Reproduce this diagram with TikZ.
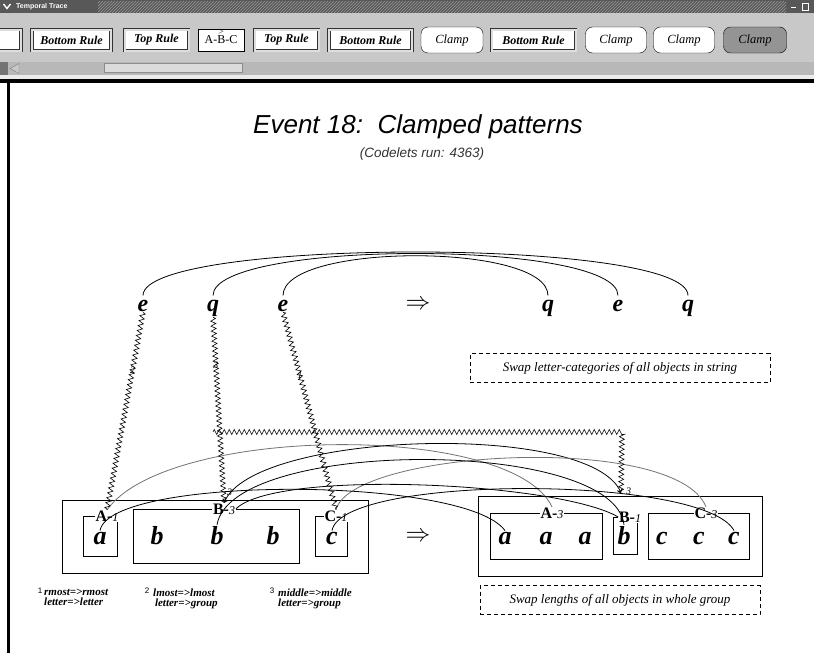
\documentclass[tikz,border=0pt]{standalone}
\usepackage{fontspec}
\setmainfont{Liberation Serif}
\newfontfamily\helvfont{Liberation Sans}
\usetikzlibrary{decorations.pathmorphing,arrows.meta,patterns}

\definecolor{title-gray}{RGB}{88,88,88}
\definecolor{panel-gray}{RGB}{200,200,200}
\definecolor{bar-gray}{RGB}{184,184,184}

\tikzset{
    rule-button/.style = {draw=black!80, line width=0.75pt, double=panel-gray!60, double distance=2pt, fill=white, minimum height=21pt, inner sep=0pt, font=\fontsize{12}{12}\selectfont\bfseries\itshape},
    clamp-button/.style = {draw=black, fill=white, rounded corners=7pt, minimum height=26pt, inner sep=0pt, font=\fontsize{12.5}{12.5}\selectfont\itshape},
    letter/.style = {anchor=base, inner sep=1pt, font=\fontsize{26}{26}\selectfont\bfseries\itshape},
    top-letter/.style = {letter, font=\fontsize{24}{24}\selectfont\bfseries\itshape},
    group-label/.style = {fill=white, inner sep=0.6pt, font=\fontsize{16}{16}\selectfont\bfseries},
    bridge/.style = {line width=0.8pt, shorten <=3pt, shorten >=3pt},
    link/.style = {line width=0.8pt},
    faint-link/.style = {link, draw=black!55},
    mapping/.style = {line width=0.6pt, decorate, decoration={zigzag, amplitude=2.5pt, segment length=5pt}},
    map-num/.style = {inner sep=0pt, font=\fontsize{10}{10}\selectfont\itshape},
    rule-note/.style = {draw, dash pattern=on 4pt off 3pt, line width=0.7pt, minimum height=29pt, font=\fontsize{13}{13}\selectfont\itshape},
    note-num/.style = {inner sep=0pt, font=\helvfont\fontsize{8}{8}\selectfont},
    note-text/.style = {anchor=north west, align=left, inner sep=0pt, font=\fontsize{11}{9.5}\selectfont\bfseries\itshape},
}

\begin{document}
\begin{tikzpicture}[x=1pt, y=-1pt]
\clip (0,0) rectangle (814,653);
\fill[white] (0,0) rectangle (814,653);

% window title bar
\fill[title-gray] (0,0) rectangle (814,13);
\fill[pattern=north east lines, pattern color=gray!80] (98,1) rectangle (786,12);
\draw[white, line width=1.4pt] (3.5,4) -- (7,8.5) -- (10.5,4);
\node[anchor=west, inner sep=0pt, text=white, font=\helvfont\fontsize{7}{7}\selectfont\bfseries] (wintitle) at (16,6.5) {Temporal Trace};
\draw[white, line width=1pt] (791,7.5) -- (796,7.5);
\draw[white, line width=0.8pt] (802,3) rectangle (808,10.5);

% trace of events
\fill[panel-gray] (0,13) rectangle (814,62);
\node[rule-button, minimum width=32pt] (btn0) at (5,40) {};
\node[rule-button, minimum width=79pt] (btn1) at (71.5,40) {Bottom Rule};
\node[rule-button, minimum width=64pt] (btn2) at (156.5,40) {Top Rule};
\node[draw=black, fill=white, minimum width=46pt, minimum height=22pt, font=\fontsize{12}{12}\selectfont] (btn3) at (221,40) {A-B-C};
\node[inner sep=0pt, font=\fontsize{7}{7}\selectfont] (btn3arrow) at (221,32) {$>$};
\node[rule-button, minimum width=64pt] (btn4) at (286.5,40) {Top Rule};
\node[rule-button, minimum width=83pt] (btn5) at (370.5,40) {Bottom Rule};
\node[clamp-button, minimum width=62pt] (btn6) at (452,40) {Clamp};
\node[rule-button, minimum width=84pt] (btn7) at (533.5,40) {Bottom Rule};
\node[clamp-button, minimum width=61pt] (btn8) at (616,40) {Clamp};
\node[clamp-button, minimum width=61pt] (btn9) at (684,40) {Clamp};
\node[clamp-button, minimum width=63pt, fill=black!42] (btn10) at (755,40) {Clamp};

% scroll bar
\fill[bar-gray] (0,62) rectangle (814,75);
\fill[black!55] (0,62) rectangle (8,75);
\draw[black!50, fill=panel-gray] (19,63.5) -- (10,68.5) -- (19,73.5) -- cycle;
\draw[black!45, fill=white!86!black] (104,63.5) rectangle (242,72.5);
\fill[white!92!black] (0,75) rectangle (814,79);
\fill[black] (0,79) rectangle (814,83);
\fill[black] (7,79) rectangle (10,653);

% heading
\node[font=\helvfont\fontsize{26}{26}\selectfont\itshape] (heading) at (418,127) {Event 18:\ \ Clamped patterns};
\node[font=\helvfont\fontsize{13.5}{13.5}\selectfont\itshape, text=black!80] (codelets) at (422,154) {(Codelets run: 4363)};

% target string and its answer
\node[top-letter] (s1) at (143,311) {e};
\node[top-letter] (s2) at (213,311) {q};
\node[top-letter] (s3) at (283,311) {e};
\node[font=\fontsize{30}{30}\selectfont] (topto) at (418,305) {$\Rightarrow$};
\node[top-letter] (t1) at (548,311) {q};
\node[top-letter] (t2) at (618,311) {e};
\node[top-letter] (t3) at (688,311) {q};

\draw[bridge] (s1.north) .. controls +(0,-61) and +(0,-61) .. (t3.north);
\draw[bridge] (s2.north) .. controls +(0,-59) and +(0,-59) .. (t2.north);
\draw[bridge] (s3.north) .. controls +(0,-56) and +(0,-56) .. (t1.north);

\node[rule-note, minimum width=300pt] (topnote) at (620,368) {Swap letter-categories of all objects in string};

% initial string a bbb c
\draw[line width=0.8pt] (62,500) rectangle (368,573);
\draw[line width=0.8pt] (83,516) rectangle (117,556);
\draw[line width=0.8pt] (133,509) rectangle (299,563);
\draw[line width=0.8pt] (315,516) rectangle (347,556);
\node[letter] (la) at (100,544) {a};
\node[letter] (lb1) at (157,544) {b};
\node[letter] (lb2) at (217,544) {b};
\node[letter] (lb3) at (273,544) {b};
\node[letter] (lc) at (332,544) {c};
\node[group-label] (gA1) at (107,516) {A-{\fontsize{12}{12}\selectfont\mdseries\itshape 1}};
\node[group-label] (gB3) at (224,509) {B-{\fontsize{12}{12}\selectfont\mdseries\itshape 3}};
\node[group-label] (gC1) at (336,516) {C-{\fontsize{12}{12}\selectfont\mdseries\itshape 1}};

\node[font=\fontsize{30}{30}\selectfont] (bottomto) at (418,537) {$\Rightarrow$};

% modified string aaa b ccc
\draw[line width=0.8pt] (478,496) rectangle (762,576);
\draw[line width=0.8pt] (490,513) rectangle (602,559);
\draw[line width=0.8pt] (613,517) rectangle (637,554);
\draw[line width=0.8pt] (648,513) rectangle (749,559);
\node[letter] (ra1) at (505,544) {a};
\node[letter] (ra2) at (546,544) {a};
\node[letter] (ra3) at (585,544) {a};
\node[letter] (rb) at (624,544) {b};
\node[letter] (rc1) at (662,544) {c};
\node[letter] (rc2) at (699,544) {c};
\node[letter] (rc3) at (734,544) {c};
\node[group-label] (gA3) at (552,513) {A-{\fontsize{12}{12}\selectfont\mdseries\itshape 3}};
\node[group-label] (gB1) at (630,517) {B-{\fontsize{12}{12}\selectfont\mdseries\itshape 1}};
\node[group-label] (gC3) at (706,513) {C-{\fontsize{12}{12}\selectfont\mdseries\itshape 3}};

% correspondences
\coordinate (clampL) at (213,432);
\coordinate (clampR) at (622,432);
\coordinate (clampEnd) at (621,493);
\node[map-num, anchor=south west] (lnum) at (227,496) {3};
\node[map-num, anchor=south west] (rnum) at (626,495) {3};

\draw[faint-link] (gA1.north) .. controls +(60,-85) and +(-40,-85) .. (gA3.north);
\draw[link, {Straight Barb[length=3pt,width=5pt]}-{Straight Barb[length=3pt,width=5pt]}] (gB3.north) .. controls +(30,-72) and +(-30,-72) .. (clampEnd);
\draw[faint-link] (gC1.north) .. controls +(15,-60) and +(-30,-75) .. (gC3.north);
\draw[link] (la.north) .. controls +(10,-55) and +(-40,-55) .. (ra1.north);
\draw[link] (lb2.north) .. controls +(15,-87) and +(-10,-87) .. (rb.north);
\draw[link] (lc.north) .. controls +(10,-56) and +(-30,-56) .. (rc3.north);
\draw[link] (gB3.east) .. controls +(40,-40) and +(-60,-35) .. (gB1.west);

\draw[mapping] (s1.south) -- node[map-num, pos=0.29] (m2) {2} (gA1.north);
\draw[mapping] (s2.south) -- node[map-num, pos=0.26] (m3) {3} (gB3.north);
\draw[mapping] (s3.south) -- node[map-num, pos=0.32] (m1) {1} (gC1.north);
\draw[mapping] (clampL) -- (clampR) -- (clampEnd);

\node[rule-note, minimum width=280pt] (bottomnote) at (620,600) {Swap lengths of all objects in whole group};

% concept mappings
\node[note-num] (n1) at (40,591) {1};
\node[note-text] (n1t) at (44,589) {rmost=>rmost\\letter=>letter};
\node[note-num] (n2) at (147,591) {2};
\node[note-text] (n2t) at (153,589) {lmost=>lmost\\\,letter=>group};
\node[note-num] (n3) at (272,591) {3};
\node[note-text] (n3t) at (278,589) {middle=>middle\\letter=>group};
\end{tikzpicture}
\end{document}
